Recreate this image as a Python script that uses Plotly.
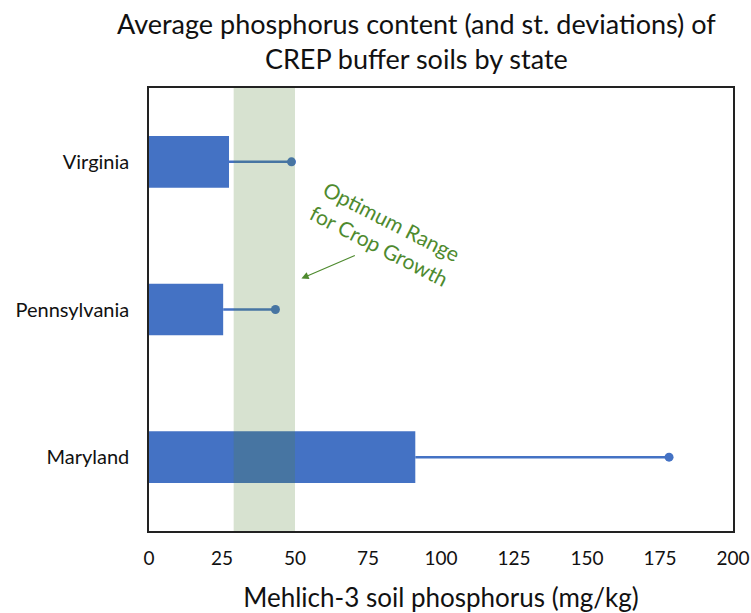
import plotly.graph_objects as go

states = ["Maryland", "Pennsylvania", "Virginia"]
mean_p = [91.2, 25.4, 27.4]
sd_p = [86.9, 17.9, 21.4]
optimum_range = [29, 50]
x_ticks = [0, 25, 50, 75, 100, 125, 150, 175, 200]

BLUE = "#4472C4"
GREEN_TXT = "#4E8A2E"
FONT = "Lato, 'Open Sans', sans-serif"

fig = go.Figure()
fig.add_trace(go.Bar(
    y=states, x=mean_p, orientation="h", width=0.35,
    marker=dict(color=BLUE, line=dict(width=0)),
    error_x=dict(type="data", array=sd_p, arrayminus=[0] * len(sd_p),
                 symmetric=False, color=BLUE, thickness=2.5, width=0),
    showlegend=False, hoverinfo="x+y"))
fig.add_trace(go.Scatter(
    y=states, x=[m + s for m, s in zip(mean_p, sd_p)], mode="markers",
    marker=dict(color=BLUE, size=9), showlegend=False))

fig.add_shape(type="rect", xref="x", yref="paper",
              x0=optimum_range[0], x1=optimum_range[1], y0=0, y1=1,
              fillcolor="rgba(84,130,53,0.23)", line=dict(width=0), layer="above")

fig.add_annotation(x=81, y=1.52, xref="x", yref="y",
                   text="Optimum Range<br>for Crop Growth", showarrow=False,
                   textangle=27, font=dict(family=FONT, size=21, color=GREEN_TXT))
fig.add_annotation(x=52.2, y=1.21, ax=71, ay=1.37, xref="x", yref="y",
                   axref="x", ayref="y", text="", showarrow=True,
                   arrowhead=2, arrowsize=1.2, arrowwidth=1.2, arrowcolor=GREEN_TXT)

# title as annotation (two centred lines)
fig.add_annotation(x=(416 - 149) / (751 - 149 - 18), y=1 + (88 - 41) / 443,
                   xref="paper", yref="paper", xanchor="center", yanchor="middle",
                   showarrow=False,
                   text="Average phosphorus content (and st. deviations) of<br>CREP buffer soils by state",
                   font=dict(family=FONT, size=27, color="#111"))

fig.update_layout(
    width=751, height=613,
    margin=dict(l=149, r=18, t=88, b=82),
    paper_bgcolor="white", plot_bgcolor="white",
    font=dict(family=FONT, color="#111"),
    bargap=0.65,
)
fig.update_xaxes(range=[0, 200], tickvals=x_ticks, showgrid=False, zeroline=False,
                 showline=True, mirror=True, linecolor="#222", linewidth=1.5,
                 ticks="", tickfont=dict(family=FONT, size=19, color="#111"),
                 ticklabelstandoff=9, automargin=False,
                 title=dict(text="Mehlich-3 soil phosphorus (mg/kg)", standoff=24,
                            font=dict(family=FONT, size=26, color="#111")))
fig.update_yaxes(categoryorder="array", categoryarray=states, range=[-0.5, 2.5],
                 showgrid=False, zeroline=False, showline=True, mirror=True,
                 linecolor="#222", linewidth=1.5, ticks="", automargin=False,
                 tickfont=dict(family=FONT, size=20, color="#111"), ticklabelstandoff=14)

fig.write_html("out.html", config={"displayModeBar": False},
               post_script="document.body.style.margin='0';")
